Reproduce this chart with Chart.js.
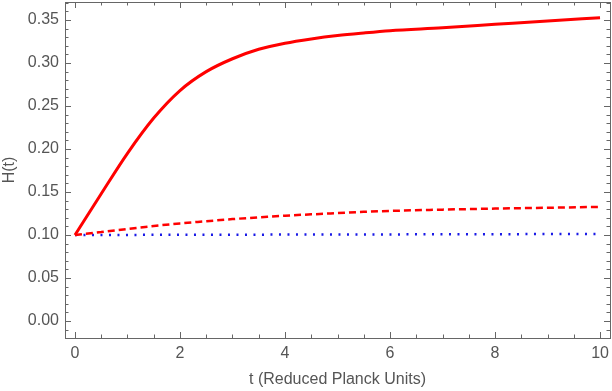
<!DOCTYPE html>
<html>
<head>
<meta charset="utf-8">
<script src="https://cdn.jsdelivr.net/npm/chart.js@4/dist/chart.umd.min.js"></script>
<style>
  html, body { margin: 0; padding: 0; background: #fff; }
  #wrap { width: 612px; height: 391px; position: relative; }
</style>
</head>
<body>
<div id="wrap"><canvas id="chart"></canvas></div>
<script>
// valeurs
const tValues = [0, 0.5, 1, 1.5, 2, 2.5, 3, 3.5, 4, 4.5, 5, 5.5, 6, 7, 8, 9, 10];
const hSolid  = [0.100, 0.148, 0.195, 0.236, 0.268, 0.290, 0.305, 0.316, 0.323, 0.328, 0.332, 0.335, 0.3376, 0.341, 0.345, 0.349, 0.3527];
const hDashed = [0.100, 0.1035, 0.107, 0.1105, 0.1135, 0.116, 0.1185, 0.1205, 0.1225, 0.124, 0.1255, 0.127, 0.128, 0.1295, 0.1307, 0.1317, 0.1327];
const hDotted = [0.1000, 0.1001, 0.1001, 0.1002, 0.1002, 0.1003, 0.1004, 0.1004, 0.1005, 0.1005, 0.1006, 0.1006, 0.1007, 0.1008, 0.1009, 0.1011, 0.1012];

const xTicks = [0, 2, 4, 6, 8, 10];
const yTicks = [0, 0.05, 0.10, 0.15, 0.20, 0.25, 0.30, 0.35];

const FRAME = '#666666';
const LABEL = '#555555';
const FONT = '"Liberation Sans", Arial, sans-serif';

function toPoints(values) {
  return tValues.map((t, i) => ({ x: t, y: values[i] }));
}

// cadre façon Mathematica, graduations vers l'intérieur sur les 4 côtés
const framePlugin = {
  id: 'frame',
  afterDraw(chart) {
    const ctx = chart.ctx;
    const a = chart.chartArea;
    const xs = chart.scales.x, ys = chart.scales.y;
    ctx.save();
    ctx.strokeStyle = FRAME;
    ctx.lineWidth = 1;
    ctx.strokeRect(Math.round(a.left) + 0.5, Math.round(a.top) + 0.5,
                   Math.round(a.right - a.left), Math.round(a.bottom - a.top));
    ctx.beginPath();
    for (let v = -0.5; v <= 10.5; v += 0.5) {
      const px = Math.round(xs.getPixelForValue(v)) + 0.5;
      if (px < a.left || px > a.right) continue;
      const len = (Math.abs(v % 2) < 1e-9) ? 6 : 3.5;
      ctx.moveTo(px, a.bottom); ctx.lineTo(px, a.bottom - len);
      ctx.moveTo(px, a.top); ctx.lineTo(px, a.top + len);
    }
    for (let k = -2; k <= 37; k++) {
      const v = k / 100;
      const py = Math.round(ys.getPixelForValue(v)) + 0.5;
      if (py < a.top || py > a.bottom) continue;
      const len = (k % 5 === 0) ? 6 : 3.5;
      ctx.moveTo(a.left, py); ctx.lineTo(a.left + len, py);
      ctx.moveTo(a.right, py); ctx.lineTo(a.right - len, py);
    }
    ctx.stroke();
    ctx.restore();
  }
};

new Chart(document.getElementById('chart'), {
  type: 'line',
  data: {
    datasets: [
      { data: toPoints(hSolid), borderColor: '#ff0000', borderWidth: 3 },
      { data: toPoints(hDashed), borderColor: '#ff0000', borderWidth: 2.5, borderDash: [7, 4] },
      { data: toPoints(hDotted), borderColor: '#1a1ae6', borderWidth: 2.5, borderDash: [2, 6.5] }
    ]
  },
  options: {
    responsive: true,
    maintainAspectRatio: false,
    animation: false,
    elements: {
      point: { radius: 0 },
      line: { cubicInterpolationMode: 'monotone', fill: false }
    },
    layout: { padding: { top: 2, right: 2, left: 0, bottom: 0 } },
    plugins: { legend: { display: false }, tooltip: { enabled: false } },
    scales: {
      x: {
        type: 'linear',
        min: -0.19,
        max: 10.19,
        afterBuildTicks(scale) { scale.ticks = xTicks.map(v => ({ value: v })); },
        afterFit(scale) { scale.height = 53; scale.paddingLeft = 0; scale.paddingRight = 0; },
        grid: { display: false, drawTicks: false },
        border: { display: false },
        ticks: {
          color: LABEL, padding: 6, maxRotation: 0,
          font: { family: FONT, size: 16 },
          callback: v => String(v)
        },
        title: {
          display: true, text: 't (Reduced Planck Units)', color: LABEL,
          font: { family: FONT, size: 16 }, padding: { top: 0, bottom: 2 }
        }
      },
      y: {
        type: 'linear',
        min: -0.0198,
        max: 0.371,
        afterBuildTicks(scale) { scale.ticks = yTicks.map(v => ({ value: v })); },
        afterFit(scale) { scale.width = 65; scale.paddingTop = 0; scale.paddingBottom = 0; },
        grid: { display: false, drawTicks: false },
        border: { display: false },
        ticks: {
          color: LABEL, padding: 6,
          font: { family: FONT, size: 16 },
          callback: v => Number(v).toFixed(2)
        },
        title: {
          display: true, text: 'H(t)', color: LABEL,
          font: { family: FONT, size: 16 }, padding: 0
        }
      }
    }
  },
  plugins: [framePlugin]
});
</script>
</body>
</html>
